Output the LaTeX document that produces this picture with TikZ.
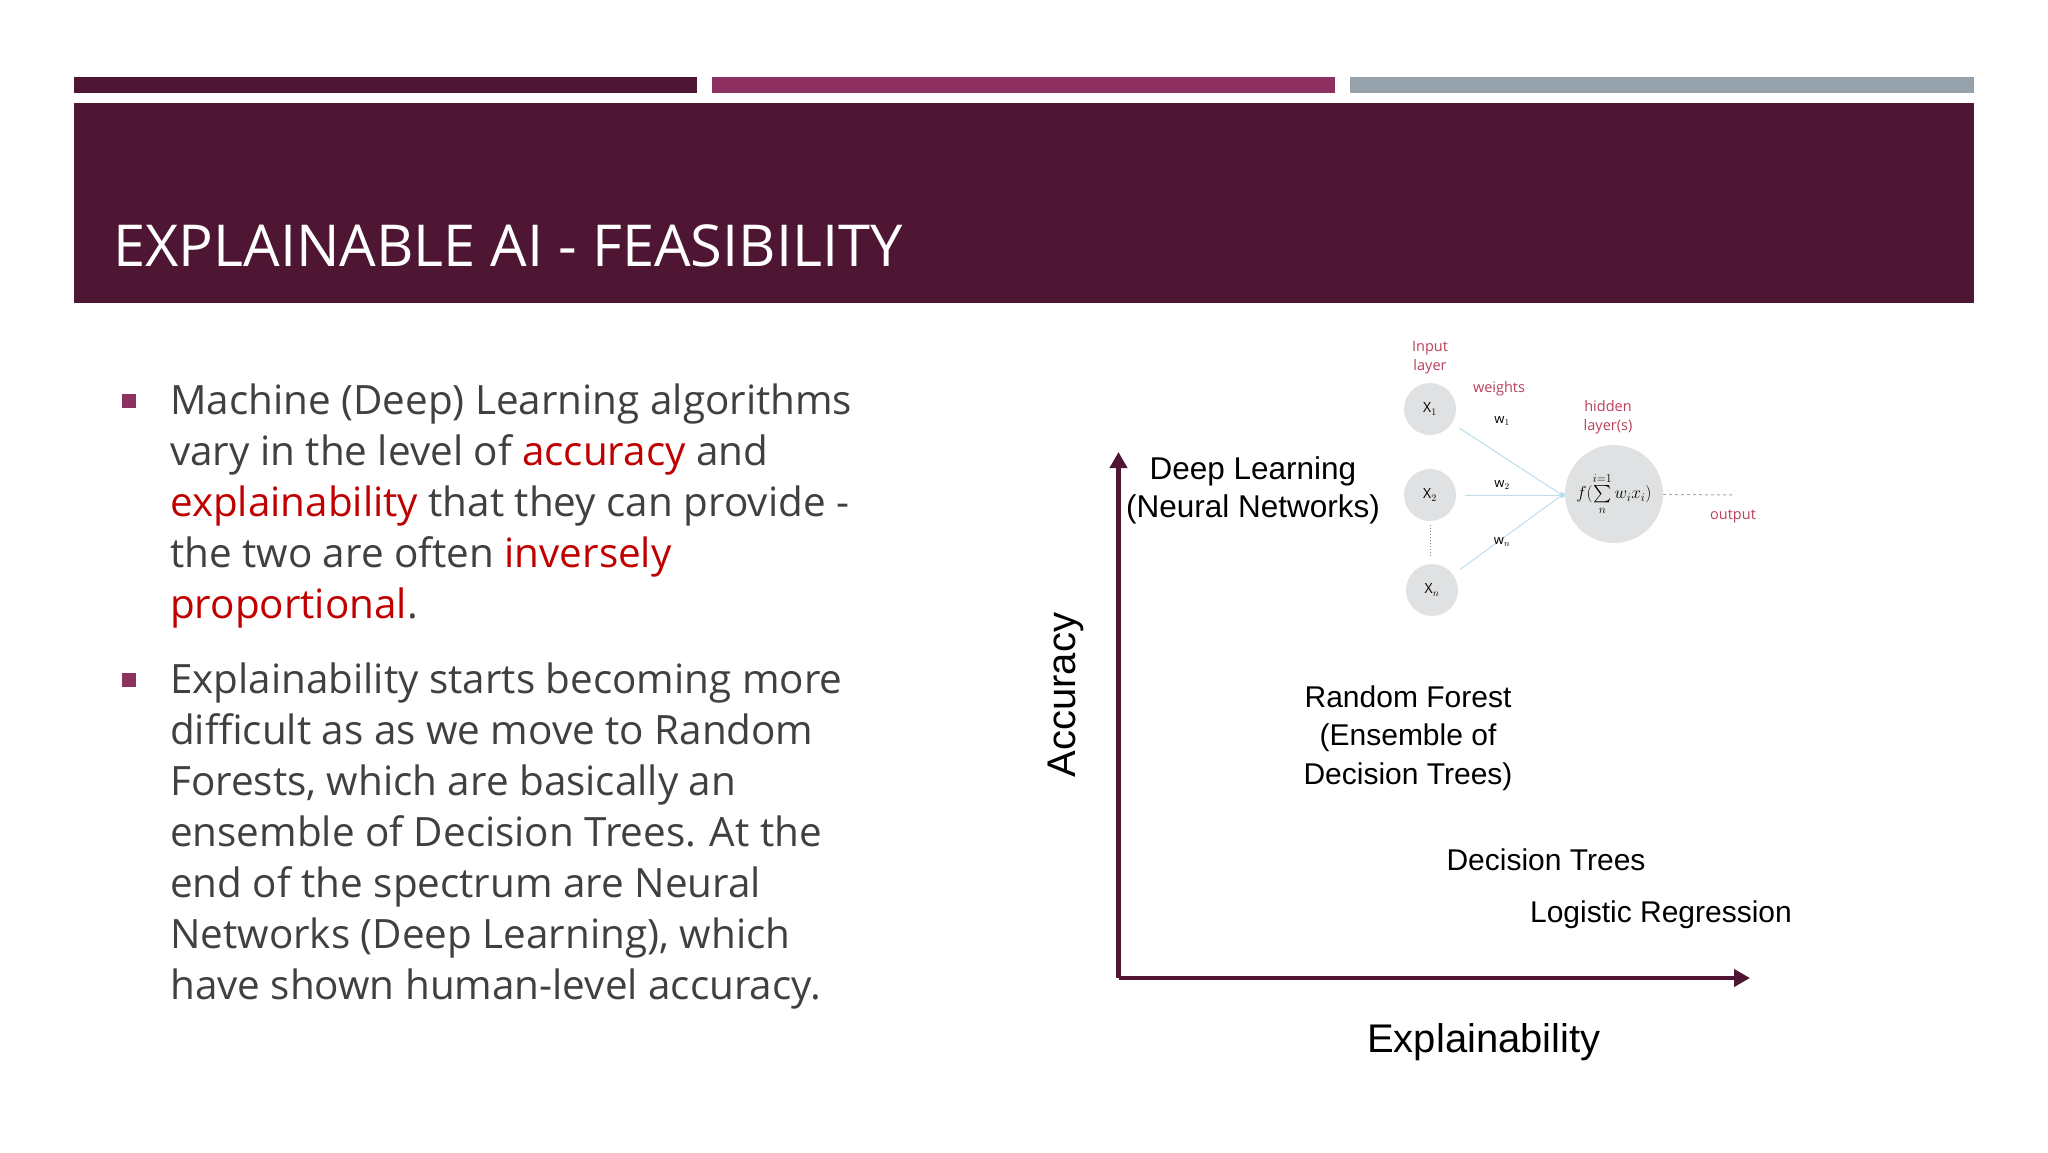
\documentclass[tikz,border=0pt]{standalone}
\usepackage{amsmath}
\usepackage{fontspec}
\setmainfont{Open Sans}
\newfontfamily\chartfont{Liberation Sans}
\usepackage{xcolor}
\usetikzlibrary{arrows.meta}
\definecolor{darkplum}{HTML}{4E1632}
\definecolor{midplum}{HTML}{8E3060}
\definecolor{slategrey}{HTML}{95A2AC}
\definecolor{bodygrey}{HTML}{404040}
\definecolor{hotred}{HTML}{C00000}
\definecolor{nodegrey}{HTML}{DFE1E2}
\definecolor{wireblue}{HTML}{BBDDEE}
\definecolor{crimsonlabel}{HTML}{B8405A}
\newcommand{\hot}[1]{\textcolor{hotred}{#1}}

\tikzset{
  bullettext/.style={anchor=north west, inner sep=0pt, align=left, text=bodygrey,
    font=\fontsize{40.4}{51}\selectfont},
  bulletmark/.style={fill=midplum, inner sep=0pt, minimum size=14pt},
  charttext/.style={align=center, inner sep=0pt, font=\chartfont\fontsize{30}{38.5}\selectfont},
  axislabel/.style={inner sep=0pt, font=\chartfont\fontsize{40}{48}\selectfont},
  axisline/.style={draw=darkplum, line width=4.5pt, -{Triangle[length=16pt,width=17pt]}},
  neuron/.style={circle, fill=nodegrey, inner sep=0pt, minimum size=52pt, font=\fontsize{14}{16}\selectfont},
  wire/.style={draw=wireblue, line width=1pt},
  netlabel/.style={text=crimsonlabel, align=center, inner sep=0pt, font=\fontsize{14.5}{19}\selectfont},
  weightlabel/.style={inner sep=0pt, font=\fontsize{13}{15}\selectfont}
}

\begin{document}
\begin{tikzpicture}[x=1pt, y=-1pt]
  \useasboundingbox (0,0) rectangle (2048,1152);

  % top bars and header
  \fill[darkplum] (74,76.5) rectangle (697,93);
  \fill[midplum] (712,76.5) rectangle (1335,93);
  \fill[slategrey] (1350,76.5) rectangle (1974,93);
  \fill[darkplum] (74,103) rectangle (1974,303);
  \node[anchor=base west, inner sep=0pt, text=white, font=\fontsize{57.8}{60}\selectfont] (title) at (113,266) {EXPLAINABLE AI - FEASIBILITY};

  % left text
  \node[bulletmark] (mark1) at (129,401) {};
  \node[bullettext] (text1) at (170,384) {Machine (Deep) Learning algorithms\\
    vary in the level of \hot{accuracy} and\\
    \hot{explainability} that they can provide -\\
    the two are often \hot{inversely}\\
    \hot{proportional}.};
  \node[bulletmark] (mark2) at (129,680) {};
  \node[bullettext] (text2) at (170,663) {Explainability starts becoming more\\
    difficult as as we move to Random\\
    Forests, which are basically an\\
    ensemble of Decision Trees. At the\\
    end of the spectrum are Neural\\
    Networks (Deep Learning), which\\
    have shown human-level accuracy.};

  % axes
  \coordinate (origin) at (1118.5,978);
  \coordinate (ytip) at (1118.5,452);
  \coordinate (xtip) at (1750,978);
  \draw[axisline] (origin) -- (ytip);
  \draw[axisline] (origin) -- (xtip);
  \node[axislabel, rotate=90] (accuracy) at (1066,695) {Accuracy};
  \node[axislabel] (explainability) at (1484,1042) {Explainability};

  % models
  \node[charttext, font=\chartfont\fontsize{31.5}{38.5}\selectfont] (deep) at (1253,490.5) {Deep Learning\\(Neural Networks)};
  \node[charttext] (forest) at (1408,738) {Random Forest\\(Ensemble of\\Decision Trees)};
  \node[charttext] (trees) at (1546,860) {Decision Trees};
  \node[charttext] (logistic) at (1661,915) {Logistic Regression};

  % small network
  \node[neuron] (x1) at (1430,409) {X$_1$};
  \node[neuron] (x2) at (1430,495) {X$_2$};
  \node[neuron] (xn) at (1432,590) {X$_n$};
  \node[circle, fill=nodegrey, inner sep=0pt, minimum width=98pt, minimum height=92pt, font=\fontsize{18}{20}\selectfont] (hidden) at (1614,494)
    {$f(\sum\limits_{n}^{i=1} w_i x_i)$};
  \node[circle, fill=wireblue, inner sep=0pt, minimum size=6pt] (join) at (1562,495) {};
  \coordinate (out) at (1733,495);

  \draw[wire, shorten <=9pt] (x1) -- (join);
  \draw[wire, shorten <=9pt] (x2) -- (join);
  \draw[wire, shorten <=9pt] (xn) -- (join);
  \draw[wire, dashed, draw=gray!50!wireblue] (hidden) -- (out);
  \draw[gray, dotted, line width=1pt] (x2) ++(0,30) -- ++(0,32);

  \node[netlabel] (inputlabel) at (1430,358) {Input\\layer};
  \node[netlabel] (weightslabel) at (1499,389) {weights};
  \node[netlabel] (hiddenlabel) at (1608,417) {hidden\\layer(s)};
  \node[netlabel] (outputlabel) at (1733,516) {output};
  \node[weightlabel] (w1) at (1502,421) {w$_1$};
  \node[weightlabel] (w2) at (1502,485) {w$_2$};
  \node[weightlabel] (wn) at (1502,542) {w$_n$};
\end{tikzpicture}
\end{document}
